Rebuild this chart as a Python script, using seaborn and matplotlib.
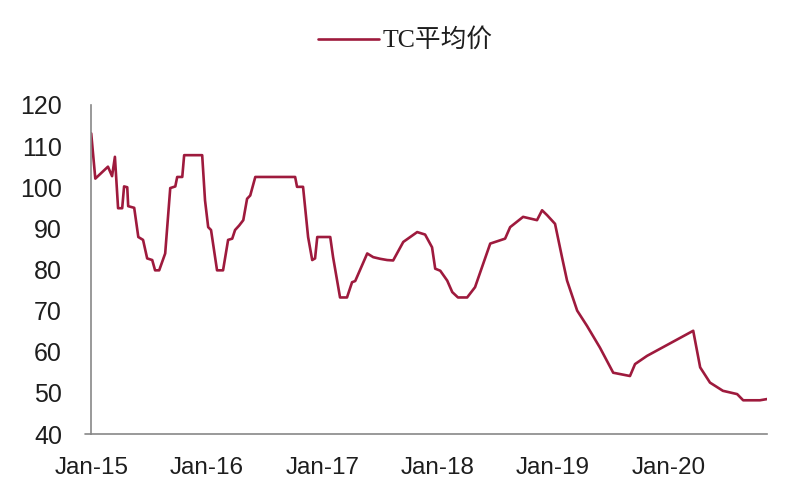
import pandas as pd
import numpy as np
import seaborn as sns
import matplotlib.pyplot as plt
import matplotlib.dates as mdates

# TC均价
dates = ['2015-01-01', '2015-01-14', '2015-02-23', '2015-03-08', '2015-03-17', '2015-03-27',
         '2015-04-09', '2015-04-15', '2015-04-25', '2015-04-28', '2015-05-17', '2015-05-30',
         '2015-06-14', '2015-06-27', '2015-07-13', '2015-07-22', '2015-08-04', '2015-08-23',
         '2015-09-08', '2015-09-24', '2015-09-30', '2015-10-16', '2015-10-22', '2015-12-18',
         '2015-12-27', '2016-01-06', '2016-01-15', '2016-02-03', '2016-02-22', '2016-03-09',
         '2016-03-22', '2016-03-31', '2016-04-13', '2016-04-26', '2016-05-08', '2016-05-18',
         '2016-06-03', '2016-10-07', '2016-10-13', '2016-11-01', '2016-11-17', '2016-11-30',
         '2016-12-09', '2016-12-16', '2017-01-26', '2017-02-04', '2017-02-26', '2017-03-20',
         '2017-04-05', '2017-04-15', '2017-05-23', '2017-06-11', '2017-07-03', '2017-07-25',
         '2017-08-13', '2017-09-14', '2017-10-28', '2017-11-22', '2017-12-14', '2017-12-24',
         '2018-01-09', '2018-01-31', '2018-02-16', '2018-03-06', '2018-04-04', '2018-04-29',
         '2018-06-16', '2018-08-02', '2018-08-18', '2018-09-28', '2018-11-11', '2018-11-27',
         '2018-12-13', '2019-01-07', '2019-01-29', '2019-02-14', '2019-03-18', '2019-04-18',
         '2019-05-29', '2019-07-10', '2019-09-01', '2019-09-17', '2019-10-25', '2020-03-19',
         '2020-04-10', '2020-05-11', '2020-06-21', '2020-08-05', '2020-08-24', '2020-10-16',
         '2020-11-08']
tc_price = [113.1, 102.1, 105.0, 102.7, 107.4, 94.9,
            94.9, 100.2, 100.0, 95.4, 95.0, 87.9,
            87.2, 82.7, 82.3, 79.8, 79.8, 83.9,
            99.8, 100.2, 102.5, 102.5, 107.8, 107.8,
            96.8, 90.3, 89.6, 79.8, 79.8, 87.2,
            87.5, 89.6, 90.7, 92.0, 97.2, 98.0,
            102.5, 102.5, 100.1, 100.1, 87.9, 82.3,
            82.7, 87.9, 87.9, 83.0, 73.2, 73.2,
            76.9, 77.2, 83.9, 83.0, 82.6, 82.3,
            82.2, 86.7, 89.1, 88.5, 85.4, 80.2,
            79.7, 77.3, 74.5, 73.2, 73.2, 75.7,
            86.3, 87.5, 90.3, 92.8, 92.0, 94.4,
            93.2, 91.1, 83.0, 77.3, 70.0, 66.3,
            61.0, 54.9, 54.1, 57.0, 59.0, 65.1,
            56.2, 52.5, 50.5, 49.7, 48.2, 48.2,
            48.5]
series_name = 'TC平均价'
year_ticks = ['2015-01-01', '2016-01-01', '2017-01-01', '2018-01-01', '2019-01-01', '2020-01-01']
year_labels = ['Jan-15', 'Jan-16', 'Jan-17', 'Jan-18', 'Jan-19', 'Jan-20']
y_ticks = [40, 50, 60, 70, 80, 90, 100, 110, 120]

df = pd.DataFrame({'date': pd.to_datetime(dates), 'price': tc_price, 'series': series_name})

sns.set_style('white')
plt.rcParams['font.family'] = ['Liberation Sans', 'Noto Sans CJK SC']

line_color = '#9e1a3d'

fig = plt.figure(figsize=(8, 5), dpi=100)
ax = fig.add_axes([0.114, 0.132, 0.845, 0.658])

sns.lineplot(data=df, x='date', y='price', hue='series', palette=[line_color],
             linewidth=1.9, ax=ax, legend=False)

ax.set_xlim(pd.Timestamp('2015-01-01'), pd.Timestamp('2020-11-08'))
ax.set_ylim(40, 120)
ax.set_xticks(pd.to_datetime(year_ticks))
ax.set_xticklabels(year_labels, fontsize=17.5, color='#1e1e1e')
ax.set_yticks(y_ticks)
ax.set_yticklabels([str(v) for v in y_ticks], fontsize=18, color='#1e1e1e')
ax.tick_params(axis='x', direction='out', length=5, width=1, color='#888888', pad=11.5)
ax.tick_params(axis='y', direction='out', length=5, width=1, color='#888888', pad=16)
ax.set_xlabel('')
ax.set_ylabel('')

for side in ['top', 'right']:
    ax.spines[side].set_visible(False)
for side in ['left', 'bottom']:
    ax.spines[side].set_color('#888888')
    ax.spines[side].set_linewidth(1.2)
# x轴线稍微向左伸出
ax.plot([-0.009, 0], [0, 0], transform=ax.transAxes, clip_on=False,
        color='#888888', linewidth=1.2)

# 图例
fig.lines.append(plt.Line2D([0.397, 0.474], [0.923, 0.923], transform=fig.transFigure,
                            color=line_color, linewidth=1.9))
fig.text(0.478, 0.92, series_name, fontsize=18.5, va='center', ha='left', color='#1e1e1e',
         family=['Liberation Serif', 'Noto Sans CJK SC'])

fig.savefig('out.png', dpi=100)
